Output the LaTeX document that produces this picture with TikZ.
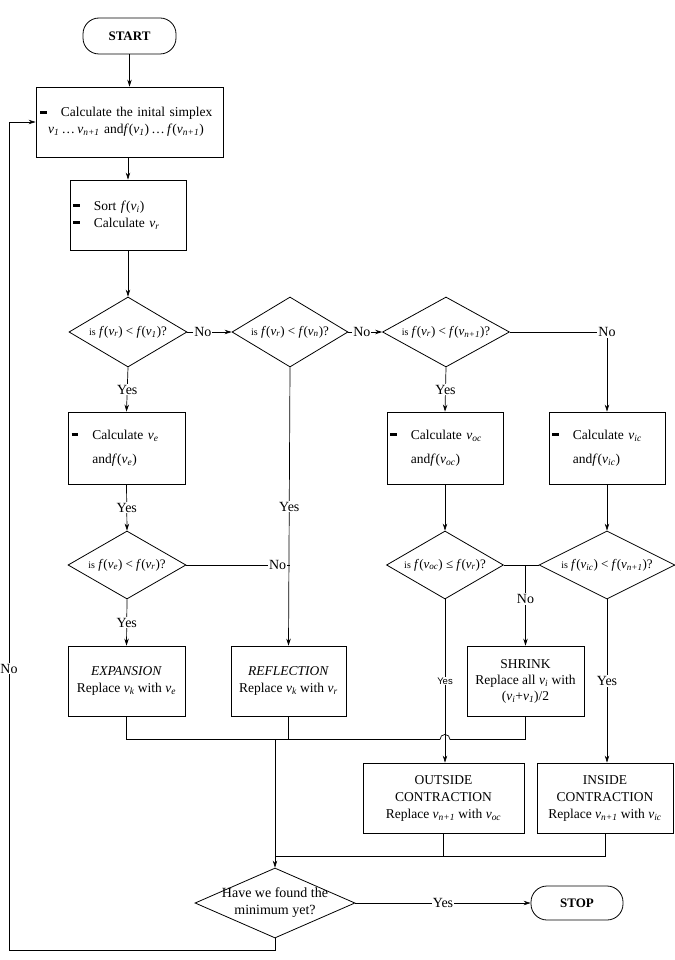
\documentclass[tikz,border=0pt]{standalone}
\usepackage{fontspec}
\setmainfont{Liberation Serif}
\setsansfont{Liberation Sans}
\usetikzlibrary{shapes.geometric,arrows.meta,positioning,calc}

\newcommand{\vs}[1]{\textit{v}\textsubscript{\textit{#1}}}
\newcommand{\fv}[1]{\textit{f}(\vs{#1})}
\newcommand{\bull}{\rule[0.22em]{0.5em}{0.22em}\hspace{1.05em}}
\newcommand{\dtxt}[1]{\makebox[0pt]{#1}}
\newcommand{\qis}{{\fontsize{10}{12}\selectfont is}}

\tikzset{
  terminal/.style={draw, line width=0.8pt, rounded corners=16pt, minimum width=93pt,
                   minimum height=36pt, font=\bfseries\fontsize{13}{15}\selectfont},
  procbox/.style={draw, line width=0.8pt, inner sep=0pt, font=\fontsize{13.5}{17}\selectfont},
  decision/.style={draw, diamond, line width=0.8pt, inner sep=0pt, font=\fontsize{13}{15}\selectfont},
  flow/.style={line width=0.7pt, -{Stealth[length=7pt,width=4.5pt]}},
  link/.style={line width=0.7pt},
  lbl/.style={fill=white, inner sep=1pt, font=\fontsize{14}{16}\selectfont},
}

\begin{document}
\begin{tikzpicture}[x=1pt,y=-1pt]
  \useasboundingbox (0,0) rectangle (674,960);

  % start and set-up
  \node[terminal] (start) at (129.5,36) {START};
  \node[procbox, minimum width=187pt, minimum height=70pt, text width=179pt, align=left]
    (init) at (129.5,122)
    {\bull Calculate the inital simplex\\
     \mbox{\hspace{0.6em}\vs{1}\,\ldots\,\vs{n+1} and\fv{1}\,\ldots\,\fv{n+1}}};
  \node[procbox, minimum width=116pt, minimum height=70pt, text width=110pt, align=left]
    (sort) at (128,215) {\bull Sort \fv{i}\\ \bull Calculate \vs{r}};

  % first row of tests
  \node[decision, minimum width=118pt, minimum height=70pt] (d1) at (128,332)
    {\dtxt{\qis\ \fv{r} < \fv{1}?}};
  \node[decision, minimum width=116pt, minimum height=70pt] (d2) at (290,332)
    {\dtxt{\qis\ \fv{r} < \fv{n}?}};
  \node[decision, minimum width=127pt, minimum height=70pt] (d3) at (446,332)
    {\dtxt{\qis\ \fv{r} < \fv{n+1}?}};

  \node[procbox, minimum width=117pt, minimum height=72pt, text width=110pt, align=left,
        font=\fontsize{13.5}{24}\selectfont] (calce) at (126.5,448)
    {\bull Calculate \vs{e}\\ \hspace{1.55em}and\fv{e}};
  \node[procbox, minimum width=116pt, minimum height=72pt, text width=110pt, align=left,
        font=\fontsize{13.5}{24}\selectfont] (calcoc) at (445,448)
    {\bull Calculate \vs{oc}\\ \hspace{1.55em}and\fv{oc}};
  \node[procbox, minimum width=116pt, minimum height=72pt, text width=110pt, align=left,
        font=\fontsize{13.5}{24}\selectfont] (calcic) at (607,448)
    {\bull Calculate \vs{ic}\\ \hspace{1.55em}and\fv{ic}};

  % second row of tests
  \node[decision, minimum width=118pt, minimum height=68pt] (d4) at (127,565)
    {\dtxt{\qis\ \fv{e} < \fv{r}?}};
  \node[decision, minimum width=117pt, minimum height=68pt] (d5) at (445,565)
    {\dtxt{\qis\ \fv{oc} ≤ \fv{r}?}};
  \node[decision, minimum width=136pt, minimum height=68pt] (d6) at (607,565)
    {\dtxt{\qis\ \fv{ic} < \fv{n+1}?}};

  % steps
  \node[procbox, minimum width=117pt, minimum height=70pt, align=center] (expn) at (126.5,681)
    {\textit{EXPANSION}\\Replace \vs{k} with \vs{e}};
  \node[procbox, minimum width=115pt, minimum height=70pt, align=center] (refl) at (288.5,681)
    {\textit{REFLECTION}\\Replace \vs{k} with \vs{r}};
  \node[procbox, minimum width=117pt, minimum height=70pt, align=center,
        font=\fontsize{13.5}{16}\selectfont] (shrk) at (525.5,681)
    {SHRINK\\Replace all \vs{i} with\\(\vs{i}+\vs{1})/2};
  \node[procbox, minimum width=161pt, minimum height=70pt, align=center] (outc) at (443.5,798)
    {OUTSIDE\\CONTRACTION\\Replace \vs{n+1} with \vs{oc}};
  \node[procbox, minimum width=136pt, minimum height=70pt, align=center] (inc) at (605,798)
    {INSIDE\\CONTRACTION\\Replace \vs{n+1} with \vs{ic}};

  % end
  \node[decision, minimum width=160pt, minimum height=70pt, font=\fontsize{14}{17}\selectfont]
    (final) at (275,903)
    {\dtxt{\begin{tabular}{@{}c@{}}Have we found the\\minimum yet?\end{tabular}}};
  \node[terminal, minimum width=92pt, minimum height=34pt] (stop) at (577,903) {STOP};

  % connectors
  \draw[flow] (start) -- (init);
  \draw[flow] (sort.north |- init.south) -- (sort.north);
  \draw[flow] (sort) -- (d1);
  \draw[flow] (d1.east) -- (d2.west) node[lbl, pos=0.35] {No};
  \draw[flow] (d2.east) -- (d3.west) node[lbl, pos=0.4] {No};
  \draw[flow] (d3.east) -| (calcic.north) node[lbl, pos=0.5] {No};
  \draw[flow] (d1.south) -- (calce.north) node[lbl, midway] {Yes};
  \draw[flow] (calce.south) -- (d4.north) node[lbl, midway] {Yes};
  \draw[flow] (d2.south) -- (refl.north) node[lbl, midway] {Yes};
  \draw[link] (d4.east) -- (d4.east -| d2.south) node[lbl, pos=0.88] {No};
  \draw[flow] (d4.south) -- (expn.north) node[lbl, midway] {Yes};
  \draw[flow] (d3.south) -- (calcoc.north) node[lbl, midway] {Yes};
  \draw[flow] (calcoc) -- (d5);
  \draw[flow] (calcic) -- (d6);
  \draw[link] (d5.east) -- (d6.west);
  \draw[flow] (d5.east -| shrk.north) -- (shrk.north) node[lbl, pos=0.42] {No};
  \draw[flow] (d5.south) -- (d5.south |- outc.north)
    node[lbl, midway, font=\sffamily\fontsize{9.5}{11}\selectfont] {Yes};
  \draw[flow] (d6.south) -- (d6.south |- inc.north) node[lbl, midway] {Yes};

  % collecting lines
  \coordinate (jl) at ($(expn.south)+(0,23)$);
  \coordinate (jd) at (275,739);
  \coordinate (jb) at (275,856);
  \draw[link] (expn.south) -- (jl) -- ($(d5.south |- jl)+(-5,0)$)
    arc[start angle=180, end angle=0, radius=5pt] -- (jl -| shrk.south) -- (shrk.south);
  \draw[link] (refl.south) -- (refl.south |- jl);
  \draw[link] (outc.south) |- (jb);
  \draw[link] (inc.south) |- (jb);
  \draw[flow] (jd) -- (final.north);
  \draw[flow] (final.east) -- (stop.west) node[lbl, midway] {Yes};
  \coordinate (loop) at (9,950);
  \draw[flow] (final.south) |- (loop) |- (init.west) node[lbl, pos=0.17] {No};
\end{tikzpicture}
\end{document}
